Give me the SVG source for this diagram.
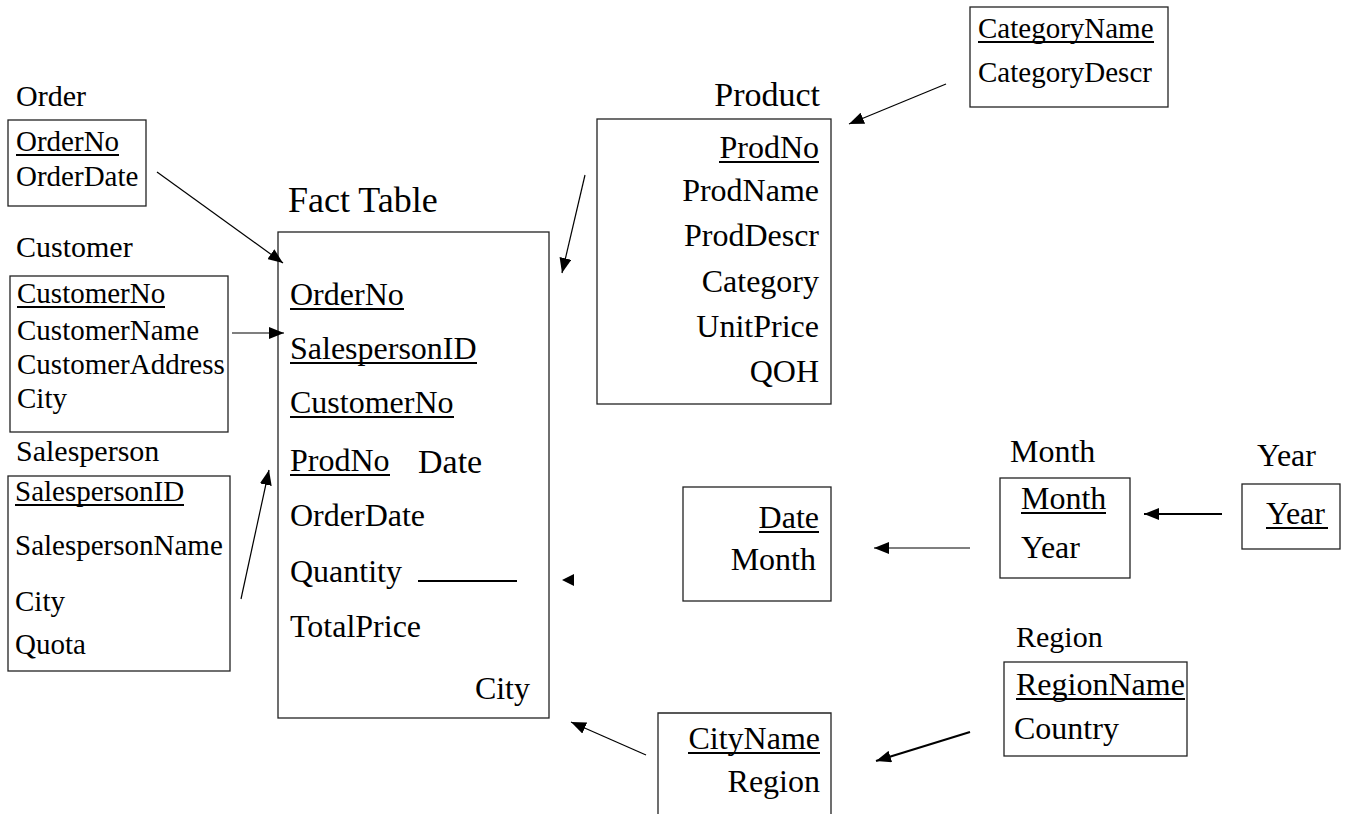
<svg xmlns="http://www.w3.org/2000/svg" width="1347" height="814" viewBox="0 0 1347 814">
  <style>
    text { font-family: "Liberation Serif", "Times New Roman", serif; fill: #000; }
    .s { font-size: 29px; }
    .m { font-size: 32px; }
    .t { font-size: 30px; }
    .r { text-anchor: end; }
    .box { fill: #fff; stroke: #222; stroke-width: 1.3; }
    .ul { stroke: #000; stroke-width: 2; }
    .ln { stroke: #000; stroke-width: 1.2; fill: none; marker-end: url(#ah); }
    .lnb { stroke: #000; stroke-width: 2.2; fill: none; marker-end: url(#ah); }
  </style>
  <defs>
    <marker id="ah" markerUnits="userSpaceOnUse" markerWidth="16" markerHeight="12" refX="15" refY="6" orient="auto">
      <path d="M0,0 L15,6 L0,12 Z" fill="#000"/>
    </marker>
  </defs>
  <rect width="1347" height="814" fill="#fff"/>

  <!-- Order dimension -->
  <g id="order">
    <text class="t" x="16" y="106">Order</text>
    <rect class="box" x="8" y="120" width="138" height="86"/>
    <text class="s" x="16" y="151">OrderNo</text>
    <line class="ul" x1="16" y1="155" x2="119" y2="155"/>
    <text class="s" x="16" y="186">OrderDate</text>
  </g>

  <!-- Customer dimension -->
  <g id="customer">
    <text class="t" x="16" y="257">Customer</text>
    <rect class="box" x="10" y="276" width="218" height="156"/>
    <text class="s" x="17" y="303">CustomerNo</text>
    <line class="ul" x1="17" y1="307" x2="165" y2="307"/>
    <text class="s" x="17" y="340">CustomerName</text>
    <text class="s" x="17" y="374">CustomerAddress</text>
    <text class="s" x="17" y="408">City</text>
  </g>

  <!-- Salesperson dimension -->
  <g id="salesperson">
    <text class="t" x="16" y="461">Salesperson</text>
    <rect class="box" x="8" y="476" width="222" height="195"/>
    <text class="s" x="15" y="501">SalespersonID</text>
    <line class="ul" x1="15" y1="505" x2="184" y2="505"/>
    <text class="s" x="15" y="555">SalespersonName</text>
    <text class="s" x="15" y="611">City</text>
    <text class="s" x="15" y="654">Quota</text>
  </g>

  <!-- Fact table -->
  <g id="fact">
    <text x="288" y="212" style="font-size:36px">Fact Table</text>
    <rect class="box" x="278" y="232" width="271" height="486"/>
    <text class="m" x="290" y="305">OrderNo</text>
    <line class="ul" x1="290" y1="309" x2="404" y2="309"/>
    <text class="m" x="290" y="359">SalespersonID</text>
    <line class="ul" x1="290" y1="363" x2="477" y2="363"/>
    <text class="m" x="290" y="413">CustomerNo</text>
    <line class="ul" x1="290" y1="417" x2="454" y2="417"/>
    <text class="m" x="290" y="471">ProdNo</text>
    <line class="ul" x1="290" y1="475" x2="390" y2="475"/>
    <text x="418" y="473" style="font-size:34px">Date</text>
    <text class="m" x="290" y="526">OrderDate</text>
    <text class="m" x="290" y="582">Quantity</text>
    <line class="ul" x1="418" y1="581" x2="517" y2="581"/>
    <text class="m" x="290" y="637">TotalPrice</text>
    <text class="m r" x="530" y="699">City</text>
  </g>

  <!-- Product dimension -->
  <g id="product">
    <text class="r" x="820" y="106" style="font-size:34px">Product</text>
    <rect class="box" x="597" y="119" width="234" height="285"/>
    <text class="m r" x="819" y="158">ProdNo</text>
    <line class="ul" x1="719" y1="162" x2="819" y2="162"/>
    <text class="m r" x="819" y="201">ProdName</text>
    <text class="m r" x="819" y="246">ProdDescr</text>
    <text class="m r" x="819" y="292">Category</text>
    <text class="m r" x="819" y="337">UnitPrice</text>
    <text class="m r" x="819" y="382">QOH</text>
  </g>

  <!-- Category dimension -->
  <g id="category">
    <rect class="box" x="970" y="7" width="198" height="100"/>
    <text class="s" x="978" y="38">CategoryName</text>
    <line class="ul" x1="978" y1="42" x2="1154" y2="42"/>
    <text class="s" x="978" y="82">CategoryDescr</text>
  </g>

  <!-- Date dimension -->
  <g id="date">
    <rect class="box" x="683" y="487" width="148" height="114"/>
    <text class="m r" x="819" y="528">Date</text>
    <line class="ul" x1="759" y1="532" x2="819" y2="532"/>
    <text class="m r" x="816" y="570">Month</text>
  </g>

  <!-- Month dimension -->
  <g id="month">
    <text class="m" x="1010" y="462">Month</text>
    <rect class="box" x="1000" y="478" width="130" height="100"/>
    <text class="m" x="1021" y="509">Month</text>
    <line class="ul" x1="1021" y1="513" x2="1106" y2="513"/>
    <text class="m" x="1021" y="558">Year</text>
  </g>

  <!-- Year dimension -->
  <g id="year">
    <text class="m" x="1257" y="466">Year</text>
    <rect class="box" x="1242" y="484" width="98" height="65"/>
    <text class="m" x="1266" y="524">Year</text>
    <line class="ul" x1="1266" y1="528" x2="1328" y2="528"/>
  </g>

  <!-- Region dimension -->
  <g id="region">
    <text class="t" x="1016" y="647">Region</text>
    <rect class="box" x="1004" y="662" width="183" height="94"/>
    <text class="m" x="1016" y="695">RegionName</text>
    <line class="ul" x1="1016" y1="699" x2="1185" y2="699"/>
    <text class="m" x="1014" y="739">Country</text>
  </g>

  <!-- City dimension (bottom edge runs off the page) -->
  <g id="city">
    <path class="box" d="M658,814 L658,713 L831,713 L831,814"/>
    <text class="m r" x="820" y="749">CityName</text>
    <line class="ul" x1="688" y1="753" x2="820" y2="753"/>
    <text class="m r" x="820" y="792">Region</text>
  </g>

  <!-- Connectors -->
  <g id="connectors">
    <line class="ln" x1="157" y1="172" x2="283" y2="263"/>
    <line class="ln" x1="232" y1="333" x2="284" y2="333"/>
    <line class="ln" x1="241" y1="599" x2="269" y2="470"/>
    <line class="ln" x1="585" y1="175" x2="562" y2="273"/>
    <line class="ln" x1="946" y1="84" x2="849" y2="124"/>
    <line class="ln" x1="970" y1="548" x2="874" y2="548"/>
    <line class="lnb" x1="1222" y1="514" x2="1144" y2="514"/>
    <path d="M562,580 L574,574 L574,586 Z" fill="#000"/>
    <line class="ln" x1="646" y1="755" x2="571" y2="722"/>
    <line class="lnb" x1="970" y1="732" x2="876" y2="761"/>
  </g>
</svg>
